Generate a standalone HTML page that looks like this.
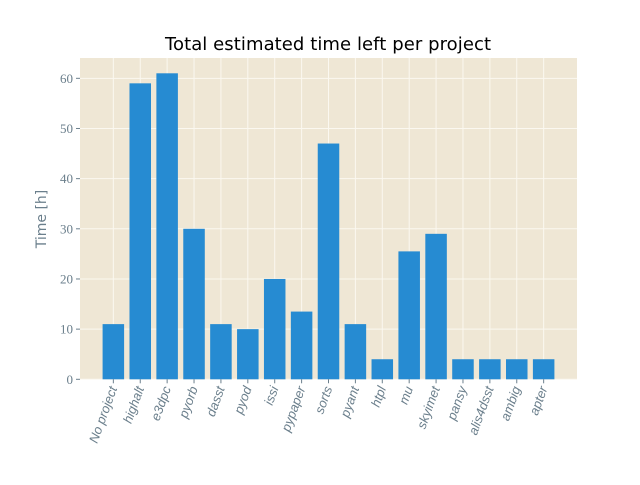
<!DOCTYPE html>
<html><head><meta charset="utf-8">
<style>
body{margin:0;background:#fff;}
svg text{font-family:"Liberation Serif",serif;fill:#6b7f8c;}
</style></head>
<body>
<svg id="chart" width="640" height="480" xmlns="http://www.w3.org/2000/svg">
<rect width="640" height="480" fill="#fff"/>
<text x="328" y="50" text-anchor="middle" textLength="326" style="font-family:'DejaVu Sans','Liberation Sans',sans-serif;font-size:18px;fill:#000">Total estimated time left per project</text>
<text transform="translate(46,219) rotate(-90)" text-anchor="middle" style="font-family:'DejaVu Sans','Liberation Sans',sans-serif;font-size:14px">Time [h]</text>
<g id="plot"></g>
</svg>
<script>
const categories=["No project","highalt","e3dpc","pyorb","dasst","pyod","issi","pypaper","sorts","pyant","htpl","mu","skyimet","pansy","alis4dsst","ambig","apter"];
const values=[11,59,61,30,11,10,20,13.5,47,11,4,25.5,29,4,4,4,4];
const yTicks=[0,10,20,30,40,50,60];
const L=80,R=577,T=58,B=379.3;
const n=categories.length;
const xMin=-0.4-0.05*(n-1+0.8),xMax=n-1+0.4+0.05*(n-1+0.8);
const yMax=Math.max(...values)*1.05;
const xs=v=>L+(v-xMin)/(xMax-xMin)*(R-L);
const ys=v=>B-v/yMax*(B-T);
const NS="http://www.w3.org/2000/svg";
const g=document.getElementById('plot');
function mk(t,a){const e=document.createElementNS(NS,t);for(const k in a)e.setAttribute(k,a[k]);g.appendChild(e);return e;}
const bg=mk('rect',{x:L,y:T,width:R-L,height:B-T,fill:'#efe7d5'});


yTicks.forEach(t=>{
  const y=ys(t);
  const l=mk('line',{x1:L,x2:R,y1:y,y2:y,stroke:'#fbf8f0','stroke-width':1});
  
  
  const tk=mk('line',{x1:L-4,x2:L,y1:y,y2:y,stroke:'#6b7f8c','stroke-width':1});
  
  
  const tx=mk('text',{x:L-7,y:y+4.5,'text-anchor':'end','font-size':'13px'});
  tx.textContent=t;
  
  
});
categories.forEach((c,i)=>{
  const x=xs(i);
  const l=mk('line',{x1:x,x2:x,y1:T,y2:B,stroke:'#fbf8f0','stroke-width':1});
  
  
});
const bw=(xs(0.8)-xs(0));
categories.forEach((c,i)=>{
  const x=xs(i);
  const r=mk('rect',{x:x-bw/2,y:ys(values[i]),width:bw,height:B-ys(values[i]),fill:'#268bd2'});
  
  
  const tk=mk('line',{x1:x,x2:x,y1:B,y2:B+4,stroke:'#6b7f8c','stroke-width':1});
  
  
  const tx=mk('text',{transform:`translate(${x+4},${B+9}) rotate(-70)`,'text-anchor':'end','font-size':'13px','font-style':'italic',style:"font-family:'Liberation Sans',sans-serif"});
  tx.textContent=c;
  
  
});
</script>
</body></html>
